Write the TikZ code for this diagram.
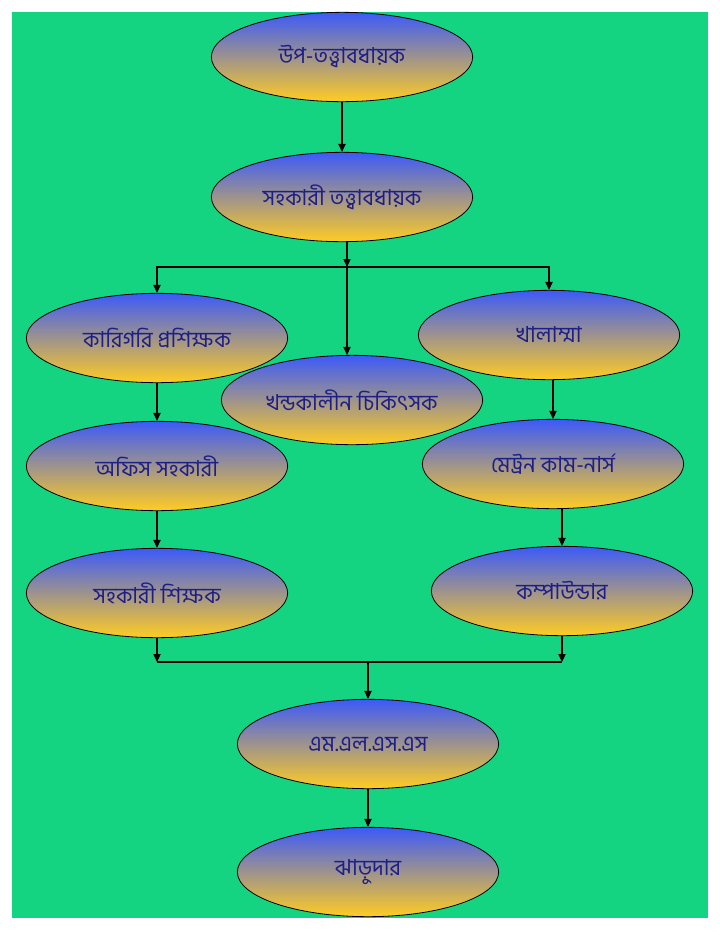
\documentclass[tikz,border=0pt]{standalone}
\usepackage{fontspec}
\newfontfamily\bnfont[Script=Bengali]{Hind Siliguri}
\usepackage{xcolor}
\usetikzlibrary{arrows.meta,shapes.geometric,positioning,calc}
\definecolor{bggreen}{HTML}{14D482}
\definecolor{topblue}{HTML}{3C5AF8}
\definecolor{midmauve}{HTML}{C8A2B2}
\definecolor{botgold}{HTML}{FFCC22}
\definecolor{txtnavy}{HTML}{1E1E88}
\tikzset{
  post/.style={ellipse, draw=black, line width=0.6pt, minimum width=196pt, minimum height=67pt,
    inner sep=0pt, top color=topblue, middle color=midmauve, bottom color=botgold,
    text=txtnavy, font=\bnfont\fontsize{16.5}{19}\selectfont},
  arr/.style={-{Triangle[width=5.5pt,length=6pt]}, line width=0.8pt},
  lnk/.style={line width=0.8pt}
}

\begin{document}
\begin{tikzpicture}[x=0.75pt,y=-0.75pt]
\fill[white] (0,0) rectangle (720,936);
\fill[bggreen] (12,12) rectangle (708,918);
\node[post] (upt) at (342,57) {উপ-তত্ত্বাবধায়ক};
\node[post] (sht) at (342,197) {সহকারী তত্ত্বাবধায়ক};
\node[post] (krp) at (157,338) {কারিগরি প্রশিক্ষক};
\node[post] (khl) at (549,335) {খালাম্মা};
\node[post] (khc) at (352,400) {খন্ডকালীন চিকিৎসক};
\node[post] (ofs) at (157,466) {অফিস সহকারী};
\node[post] (mtn) at (553,464) {মেট্রন কাম-নার্স};
\node[post] (shs) at (157,593) {সহকারী শিক্ষক};
\node[post] (cmp) at (562,591) {কম্পাউন্ডার};
\node[post] (mls) at (368,744) {এম.এল.এস.এস};
\node[post] (jhd) at (368,872) {ঝাড়ুদার};
% split and merge points
\coordinate (sp) at (347,267);
\coordinate (mg) at (368,662);
\draw[arr] (upt) -- (sht);
\draw[arr] (sht.south -| sp) -- (sp);
\draw[lnk] (krp.north |- sp) -- (khl.north |- sp);
\draw[arr] (sp) -| (krp.north);
\draw[arr] (sp) -| (khl.north);
\draw[arr] (sp) -- (sp |- khc.north);
\draw[arr] (krp) -- (ofs);
\draw[arr] (mtn.north |- khl.south) -- (mtn.north);
\draw[arr] (ofs) -- (shs);
\draw[arr] (cmp.north |- mtn.south) -- (cmp.north);
\draw[arr] (shs.south) -- (shs.south |- mg);
\draw[arr] (cmp.south) -- (cmp.south |- mg);
\draw[lnk] (shs.south |- mg) -- (cmp.south |- mg);
\draw[arr] (mg) -- (mls.north);
\draw[arr] (mls) -- (jhd);
\end{tikzpicture}
\end{document}
